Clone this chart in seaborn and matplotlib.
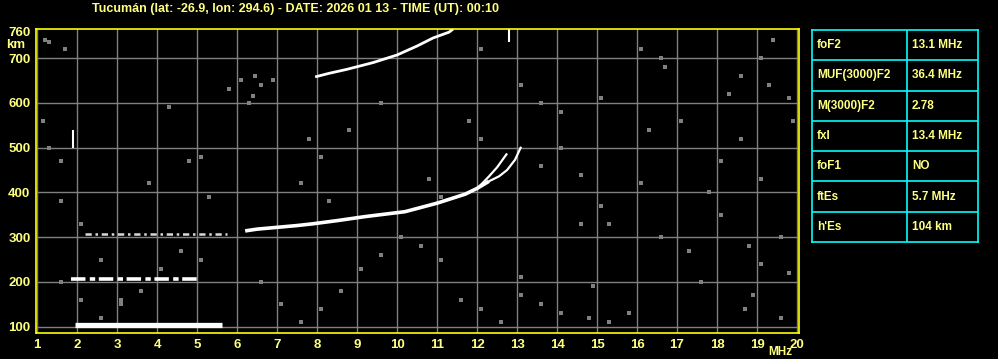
import matplotlib
matplotlib.use("Agg")
import matplotlib.pyplot as plt
import seaborn as sns
import pandas as pd

# ---------------- data ----------------
title = "Tucumán (lat: -26.9, lon: 294.6) - DATE: 2026 01 13 - TIME (UT): 00:10"
freq_ticks = list(range(1, 21))
height_ticks = [100, 200, 300, 400, 500, 600, 700]

# sporadic E and its multiples
es_f = [1.95, 5.62]
es_h = [104, 104]
es2_f = [1.85, 5.05]
es2_h = [207, 207]
es3_f = [2.2, 5.75]
es3_h = [308, 308]

# F trace (first hop)
f_f = [6.2, 6.5, 7.0, 7.5, 7.9, 8.5, 9.2, 10.2, 11.0, 11.7, 12.0, 12.3]
f_h = [314, 318, 322, 326, 330, 337, 346, 357, 376, 396, 409, 425]
# ordinary / extraordinary branches near the cusp
fo_f = [12.0, 12.15, 12.3, 12.5, 12.75]
fo_h = [409, 422, 436, 456, 487]
fx_f = [12.3, 12.55, 12.75, 12.95, 13.1]
fx_h = [425, 436, 450, 473, 502]
# second hop
f2_f = [7.95, 8.3, 8.75, 9.4, 10.0, 10.5, 10.9, 11.3, 11.4]
f2_h = [658, 666, 675, 690, 707, 727, 745, 758, 765]

# short vertical echoes
bar1_f = [1.9, 1.9]
bar1_h = [500, 540]
bar2_f = [12.8, 12.8]
bar2_h = [735, 765]

# scattered noise echoes (read approximately)
noise_f = [1.2, 1.3, 1.7, 1.15, 1.3, 1.6, 1.6, 2.1, 2.6, 3.1, 3.8, 4.3, 5.1, 5.8, 6.1,
           6.4, 6.6, 6.9, 6.3, 6.45, 7.8, 8.1, 7.6, 8.3, 8.8, 9.6, 10.8, 11.1, 11.8, 12.1,
           13.1, 13.6, 14.1, 14.6, 15.1, 15.3, 16.1, 16.6, 17.3, 17.6, 18.1, 18.6, 19.1, 19.4,
           19.6, 19.8, 15.3, 14.8, 14.1, 13.6, 13.1, 12.6, 12.1, 11.6, 11.1, 10.6, 10.1, 9.6,
           9.1, 8.6, 8.1, 7.6, 7.1, 6.6, 5.1, 4.6, 4.1, 3.6, 3.1, 2.6, 2.1, 1.6, 4.8, 5.3,
           18.3, 18.6, 19.3, 19.8, 16.6, 16.1, 17.1, 18.1, 18.8, 19.1, 18.7, 19.6, 14.1, 13.6,
           12.1, 19.1, 14.9, 13.1, 15.1, 16.7, 14.6, 15.8, 16.3, 17.8, 18.9, 19.9]
noise_h = [740, 735, 720, 560, 500, 470, 380, 330, 250, 160, 420, 590, 480, 630, 650,
           615, 640, 650, 600, 660, 520, 480, 420, 380, 540, 600, 430, 390, 560, 520,
           640, 600, 580, 440, 370, 330, 420, 300, 270, 200, 470, 520, 700, 740,
           300, 220, 110, 120, 130, 150, 170, 110, 140, 160, 250, 280, 300, 260,
           230, 180, 140, 110, 150, 200, 250, 270, 230, 180, 150, 120, 160, 200, 470, 390,
           620, 660, 640, 610, 700, 720, 560, 350, 280, 240, 140, 120, 500, 460,
           720, 430, 190, 210, 610, 680, 330, 130, 540, 400, 170, 560]

table_labels = ["foF2", "MUF(3000)F2", "M(3000)F2", "fxI", "foF1", "ftEs", "h'Es"]
table_values = ["13.1 MHz", "36.4 MHz", "2.78", "13.4 MHz", "NO", "5.7 MHz", "104 km"]

# ---------------- styling ----------------
sns.set_style("dark")
plt.rcParams['font.family'] = ['Liberation Sans', 'DejaVu Sans']
BG = "black"
TXT = "#ffff80"
FRAME = "#ffff00"
GRID = "#808080"

W, H = 998, 359
fig = plt.figure(figsize=(W / 100, H / 100), dpi=100, facecolor=BG)

ax = fig.add_axes([36 / W, 1 - 333 / H, (799 - 36) / W, (333 - 29) / H])
ax.set_facecolor(BG)

noise_df = pd.DataFrame({"f": noise_f, "h": noise_h})
sns.scatterplot(data=noise_df, x="f", y="h", ax=ax, color=GRID, marker="s", s=6,
                linewidth=0, zorder=2)


def trace(fx, hx, lw, color="white", dashes=None, z=3):
    df = pd.DataFrame({"f": fx, "h": hx})
    sns.lineplot(data=df, x="f", y="h", ax=ax, color=color, linewidth=lw,
                 sort=False, estimator=None, zorder=z)
    if dashes is not None:
        ax.lines[-1].set_dashes(dashes)
    ax.lines[-1].set_solid_capstyle("butt")
    ax.lines[-1].set_dash_capstyle("butt")


trace(es_f, es_h, 3.8)
trace(es2_f, es2_h, 2.6, dashes=(4, 1.2, 1.5, 1.0))
trace(es3_f, es3_h, 1.8, color="#d8d8d8", dashes=(2.5, 1.5, 1, 1.5))
trace(f_f, f_h, 2.6)
trace(fo_f, fo_h, 1.6)
trace(fx_f, fx_h, 1.6)
trace(f2_f, f2_h, 2.0)
trace(bar1_f, bar1_h, 1.5)
trace(bar2_f, bar2_h, 1.5)

ax.set_xlim(0.97, 20.05)
ax.set_ylim(86, 765)
ax.set_xticks(freq_ticks)
ax.set_yticks(height_ticks)
ax.grid(True, color=GRID, linewidth=1.0)
ax.set_axisbelow(True)
ax.set_xlabel("")
ax.set_ylabel("")
ax.tick_params(length=0, colors=TXT, labelsize=9.5, pad=4)
ax.set_xticklabels([str(t) for t in freq_ticks], fontweight="bold", color=TXT)
ax.set_yticklabels([str(t) for t in height_ticks], fontweight="bold", color=TXT)
for s in ax.spines.values():
    s.set_visible(True)
    s.set_color(FRAME)
    s.set_linewidth(1.2)

# extra axis texts
fig.text(31 / W, 1 - 33 / H, "760", color=TXT, fontsize=9.5, fontweight="bold",
         ha="right", va="center")
fig.text(25 / W, 1 - 45 / H, "km", color=TXT, fontsize=9.5, fontweight="bold",
         ha="right", va="center")
fig.text(780 / W, 1 - 352 / H, "MHz", color=TXT, fontsize=8.5, fontweight="bold",
         ha="center", va="center")
fig.text(295 / W, 1 - 9 / H, title, color=TXT, fontsize=9, fontweight="bold",
         ha="center", va="center")

# ---------------- parameter table ----------------
tx0, tx1, ty0, ty1 = 812, 978, 30, 242
tab = fig.add_axes([tx0 / W, 1 - ty1 / H, (tx1 - tx0) / W, (ty1 - ty0) / H])
tab.set_facecolor(BG)
tab.set_xlim(0, 1)
tab.set_ylim(len(table_labels), 0)
tab.set_xticks([])
tab.set_yticks([])
cyan = "#00ffff"
for s in tab.spines.values():
    s.set_color(cyan)
    s.set_linewidth(1.2)
split = (907 - tx0) / (tx1 - tx0)
tab.axvline(split, color=cyan, linewidth=1.2)
for i in range(1, len(table_labels)):
    tab.axhline(i, color=cyan, linewidth=1.2)
for i, (lab, val) in enumerate(zip(table_labels, table_values)):
    tab.text(0.03, i + 0.5, lab, color=TXT, fontsize=8.5, fontweight="bold",
             ha="left", va="center")
    tab.text(split + 0.03, i + 0.5, val, color=TXT, fontsize=8.5, fontweight="bold",
             ha="left", va="center")

fig.savefig("out.png", dpi=100, facecolor=BG)
